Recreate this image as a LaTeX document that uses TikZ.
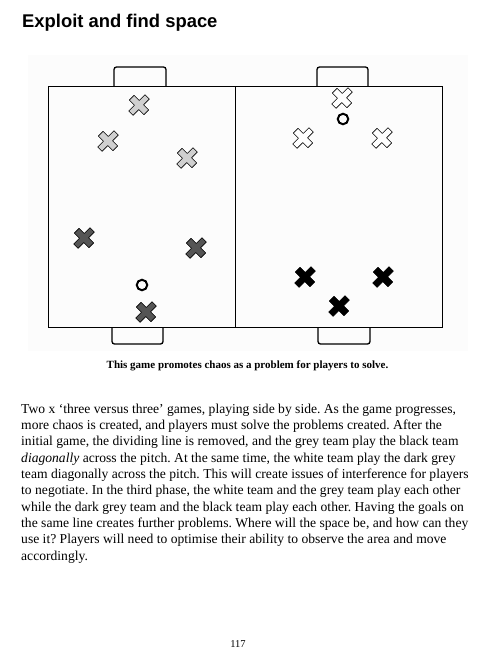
\documentclass[tikz,border=0pt]{standalone}
\usepackage{fontspec}
\setmainfont{Liberation Serif}
\newfontfamily\headfont{Liberation Sans}
\usetikzlibrary{calc}
\frenchspacing

\definecolor{lightgreyteam}{HTML}{D0D0D0}
\definecolor{darkgreyteam}{HTML}{555555}
\definecolor{pagetint}{HTML}{FCFCFC}

\tikzset{
  pics/player/.style={code={
    \filldraw[fill=#1, line width=0.6pt, line join=round, rotate=45, yscale=0.9]
      (3.4,11.5) -- (3.4,3.4) -- (11.5,3.4) -- (11.5,-3.4) -- (3.4,-3.4) -- (3.4,-11.5)
      -- (-3.4,-11.5) -- (-3.4,-3.4) -- (-11.5,-3.4) -- (-11.5,3.4) -- (-3.4,3.4)
      -- (-3.4,11.5) -- cycle;
  }},
  goal/.style={line width=1.3pt, rounded corners=2.5pt},
  pitchline/.style={line width=1pt},
  ball/.style={circle, draw, line width=2pt, minimum size=10.5pt, inner sep=0pt},
  bodyline/.style={anchor=base west, inner sep=0pt, font=\fontsize{13.6}{15}\selectfont},
}

\begin{document}
\begin{tikzpicture}[x=1pt, y=-1pt]
  \useasboundingbox (0,0) rectangle (487,654);

  % Coordinates
  \coordinate (NW) at (48,86);
  \coordinate (SE) at (442,327);
  \coordinate (MT) at (235,86);
  \coordinate (MB) at (235,327);
  \coordinate (G1) at (139,105);
  \coordinate (G2) at (108,141);
  \coordinate (G3) at (187,158);
  \coordinate (W1) at (342,98);
  \coordinate (W2) at (303,138);
  \coordinate (W3) at (382,138);
  \coordinate (D1) at (84,238);
  \coordinate (D2) at (196,248);
  \coordinate (D3) at (146,312);
  \coordinate (K1) at (305,277);
  \coordinate (K2) at (383,277);
  \coordinate (K3) at (339,306);

  % Drawing
  \fill[pagetint] (28,55) rectangle (468,351);
  \draw[goal] (114,86) -- (114,67) -- (166,67) -- (166,86);
  \draw[goal] (317,86) -- (317,67) -- (368,67) -- (368,86);
  \draw[goal] (112,327) -- (112,344) -- (163,344) -- (163,327);
  \draw[goal] (318,327) -- (318,344) -- (370,344) -- (370,327);
  \draw[pitchline] (NW) rectangle (SE);
  \draw[pitchline] (MT) -- (MB);
  \pic at (G1) {player=lightgreyteam};
  \pic at (G2) {player=lightgreyteam};
  \pic at (G3) {player=lightgreyteam};
  \pic at (W1) {player=white};
  \pic at (W2) {player=white};
  \pic at (W3) {player=white};
  \pic at (D1) {player=darkgreyteam};
  \pic at (D2) {player=darkgreyteam};
  \pic at (D3) {player=darkgreyteam};
  \pic at (K1) {player=black};
  \pic at (K2) {player=black};
  \pic at (K3) {player=black};
  \node[ball] (ballR) at (343,119) {};
  \node[ball] (ballL) at (142,285) {};

  % Texts
  \node[anchor=base west, inner sep=0pt, font=\headfont\bfseries\fontsize{18.4}{20}\selectfont] (title) at (22,27) {Exploit and find space};
  \node[anchor=base, inner sep=0pt, font=\bfseries\fontsize{11}{13}\selectfont] (caption) at (247.5,368.5) {This game promotes chaos as a problem for players to solve.};
  \node[bodyline] (l1) at (21,413.3) {Two x ‘three versus three’ games, playing side by side. As the game progresses,};
  \node[bodyline] (l2) at (21,429.6) {more chaos is created, and players must solve the problems created. After the};
  \node[bodyline] (l3) at (21,445.9) {initial game, the dividing line is removed, and the grey team play the black team};
  \node[bodyline] (l4) at (21,462.2) {\textit{diagonally} across the pitch. At the same time, the white team play the dark grey};
  \node[bodyline] (l5) at (21,478.5) {team diagonally across the pitch. This will create issues of interference for players};
  \node[bodyline] (l6) at (21,494.8) {to negotiate. In the third phase, the white team and the grey team play each other};
  \node[bodyline] (l7) at (21,511.1) {while the dark grey team and the black team play each other. Having the goals on};
  \node[bodyline] (l8) at (21,527.4) {the same line creates further problems. Where will the space be, and how can they};
  \node[bodyline] (l9) at (21,543.7) {use it? Players will need to optimise their ability to observe the area and move};
  \node[bodyline] (l10) at (21,560) {accordingly.};
  \node[anchor=base, inner sep=0pt, font=\fontsize{10.5}{12}\selectfont] (pageno) at (238,647) {117};
\end{tikzpicture}
\end{document}
